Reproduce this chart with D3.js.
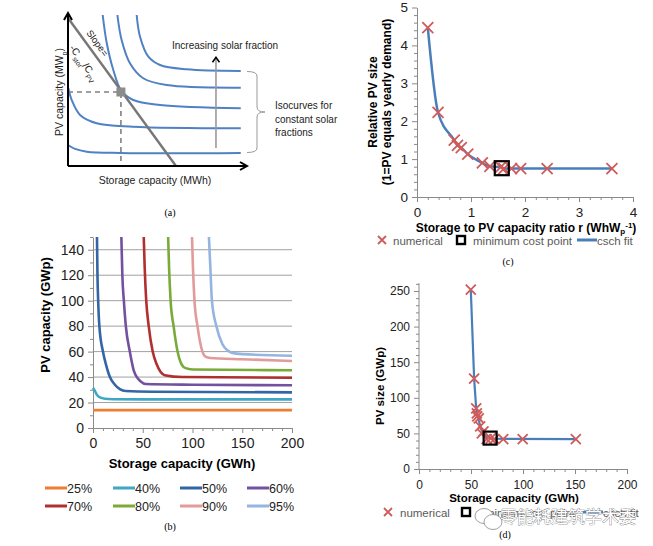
<!DOCTYPE html>
<html><head><meta charset="utf-8">
<script src="https://cdn.jsdelivr.net/npm/d3@7"></script>
<style>
body{margin:0;background:#fff}
svg{display:block}
text{font-family:"Liberation Sans",Arial,sans-serif}
</style>
</head><body>
<svg id="fig" width="653" height="546"></svg>
<script>
// ---------------- DATA ----------------
// Panel (a): schematic (unitless, 0-100 on both axes)
const schemCurve1 = [[0,13.9],[4,11.3],[10.6,9.5],[29.4,8.6],[97.6,8.6]];
const schemCurve2 = [[0.2,51.5],[2.1,43.7],[6.8,33.8],[16.2,28.3],[36.7,26],[97.6,25]];
const schemCurve3 = [[19.6,100],[21.9,81.3],[25.6,63.6],[29.9,50.3],[36.9,43.7],[52,40.4],[97.6,38.2]];
const schemCurve4 = [[27.9,100],[30.3,83.4],[35,68],[42.5,58.1],[55.8,53.6],[97.6,51.9]];
const schemCurve5 = [[38.8,100],[40.7,85.6],[45.4,72.4],[52,66.9],[67.1,64],[97.6,62.9]];
const schemSlope = [[0,98],[61,0]];
const schemOptimum = [29.9,49];

// Panel (b): PV capacity (GWp) vs storage capacity (GWh)
const fractionLabels = ["25%","40%","50%","60%","70%","80%","90%","95%"];
const iso25 = [[0,14],[200,14]];
const iso40 = [[0,31.5],[2,29],[4,26],[7,24],[12,23],[20,22.6],[50,22.5],[200,22.5]];
const iso50 = [[4,150],[4.5,120],[5.2,100],[6.4,80],[10,60],[13,50],[17,40],[22,34],[27,30.5],[33,29],[60,28.5],[200,28]];
const iso60 = [[28.5,150],[29.5,120],[31,100],[33,80],[37,60],[41,45],[45,39],[48,36.5],[53,34.5],[100,34],[200,33.6]];
const iso70 = [[51,150],[52,125],[53.5,100],[56,80],[60,60],[64,50],[68,44],[72,41.5],[90,40],[200,39.5]];
const iso80 = [[75.5,150],[76.5,125],[78,100],[81,80],[85,60],[89,50],[93,47],[100,46],[200,45.4]];
const iso90 = [[99.5,150],[100.5,125],[102,100],[105,80],[110,60],[113,56],[118,55],[150,54],[200,52.6]];
const iso95 = [[116.5,150],[118,125],[119.5,100],[124,80],[130,66],[135,61],[140,59],[150,58],[200,56.8]];
const isoSeries = [iso25, iso40, iso50, iso60, iso70, iso80, iso90, iso95];
const bYTicks = [0,20,40,60,80,100,120,140];
const bXTicks = [0,50,100,150,200];

// Panel (c): relative PV size vs storage/PV ratio
const ratioR = [0.2,0.39,0.69,0.75,0.82,0.94,1.21,1.35,1.55,1.61,1.75,1.92,2.41,3.61];
const relPV  = [4.47,2.23,1.5,1.36,1.3,1.13,0.9,0.81,0.79,0.75,0.75,0.75,0.75,0.75];
const cMinCost = [1.57,0.76];
const cYTicks = [0,1,2,3,4,5];
const cXTicks = [0,1,2,3,4];

// Panel (d): PV size (GWp) vs storage capacity (GWh)
const storD = [49.8,53,55,55.6,56,57.5,58.8,60.4,62,65,69,72.5,81,99.7,150.8];
const pvD   = [252,127,85,78,74,71,60,50,53,42,43,42,42,42,42];
const dFitStor = [49.8,53,55,57.5,60,65,70,150.8];
const dFitPV   = [252,127,85,68,55,45,42.5,42];
const dMinCost = [68.4,43.4];
const dYTicks = [0,50,100,150,200,250];
const dXTicks = [0,50,100,150,200];

// ---------------- STYLE ----------------
const isoColors = ["#ed7d31","#3fa7c4","#3465a4","#7350a0","#b03030","#7aab3a","#e29b9b","#95b5e0"];
const blueFit = "#4a7ebb", redX = "#d05a5a", axisGray = "#8a8a8a";
const fmt = d3.format("d");

const svg = d3.select("#fig");

function crossPath(cx, cy, s){
  return `M${cx-s},${cy-s}L${cx+s},${cy+s}M${cx-s},${cy+s}L${cx+s},${cy-s}`;
}
function styleAxis(g, fs){
  g.select(".domain").attr("stroke", axisGray).attr("stroke-width",1);
  g.selectAll(".tick line").attr("stroke", axisGray);
  g.selectAll(".tick text").attr("fill","#222").style("font-size", fs+"px")
    .style("font-family",'"Liberation Sans",Arial,sans-serif');
}
function minorAxis(g, axis){
  g.call(axis.tickFormat(""));
  g.select(".domain").remove();
  g.selectAll(".tick line").attr("stroke", axisGray);
}

// ================= PANEL (a) =================
{
  const xa = d3.scaleLinear([0,100],[68,245]);
  const ya = d3.scaleLinear([0,100],[166,15]);
  const g = svg.append("g");
  g.append("path").attr("d", `M${xa(0)},${ya(schemOptimum[1])}H${xa(schemOptimum[0])}V${ya(0)}`)
    .attr("fill","none").attr("stroke","#808080").attr("stroke-width",1.6).attr("stroke-dasharray","5,4");
  [schemCurve1,schemCurve2,schemCurve3,schemCurve4,schemCurve5].forEach(c=>{
    g.append("path").attr("d", d3.line().x(d=>xa(d[0])).y(d=>ya(d[1])).curve(d3.curveCatmullRom.alpha(0.5))(c))
      .attr("fill","none").attr("stroke","#4f81c4").attr("stroke-width",2);
  });
  g.append("path").attr("d", d3.line().x(d=>xa(d[0])).y(d=>ya(d[1]))(schemSlope))
    .attr("stroke","#777").attr("stroke-width",2.4).attr("fill","none");
  g.append("rect").attr("x", xa(schemOptimum[0])-4.5).attr("y", ya(schemOptimum[1])-4.5)
    .attr("width",9).attr("height",9).attr("fill","#8c8c8c");
  g.append("path").attr("d", `M${xa(0)},${ya(0)}V${ya(100)-1}M${xa(0)},${ya(0)}H${xa(100)+1}`)
    .attr("stroke","#000").attr("stroke-width",2).attr("fill","none");
  g.append("path").attr("d", `M${xa(0)-4},${ya(100)+5}L${xa(0)},${ya(100)-2}L${xa(0)+4},${ya(100)+5}`)
    .attr("stroke","#000").attr("stroke-width",2).attr("fill","none");
  g.append("path").attr("d", `M${xa(100)-5},${ya(0)-4}L${xa(100)+2},${ya(0)}L${xa(100)-5},${ya(0)+4}`)
    .attr("stroke","#000").attr("stroke-width",2).attr("fill","none");
  g.append("line").attr("x1",xa(83.6)).attr("x2",xa(83.6)).attr("y1",ya(11.9)).attr("y2",ya(72))
    .attr("stroke","#9a9a9a").attr("stroke-width",1.6);
  g.append("path").attr("d", `M${xa(83.6)-3.5},${ya(72)+5}L${xa(83.6)},${ya(72)}L${xa(83.6)+3.5},${ya(72)+5}`)
    .attr("stroke","#000").attr("stroke-width",1.6).attr("fill","none");
  g.append("text").attr("x",172).attr("y",49).style("font-size","10px").attr("fill","#222").text("Increasing solar fraction");
  g.append("path").attr("d","M247,71.5Q257,71.5 257,76V107Q257,112 265,112Q257,112 257,117V148Q257,152.5 247,152.5")
    .attr("fill","none").attr("stroke","#999").attr("stroke-width",1);
  const iso = g.append("text").style("font-size","10px").attr("fill","#222");
  ["Isocurves for","constant solar","fractions"].forEach((t,i)=>
    iso.append("tspan").attr("x",275).attr("y",109+i*13.5).text(t));
  g.append("text").attr("x",155).attr("y",184).attr("text-anchor","middle").style("font-size","10.5px").attr("fill","#222")
    .text("Storage capacity (MWh)");
  const yl = g.append("text").attr("transform","translate(63,92) rotate(-90)").attr("text-anchor","middle")
    .style("font-size","10.5px").attr("fill","#222");
  yl.append("tspan").text("PV capacity (MW");
  yl.append("tspan").attr("baseline-shift","sub").style("font-size","7px").text("p");
  yl.append("tspan").text(")");
  const ang = 53.9;
  g.append("text").attr("transform",`translate(86,33) rotate(${ang})`).style("font-size","9.5px").attr("fill","#222").text("Slope=");
  const sl = g.append("text").attr("transform",`translate(69,48) rotate(${ang})`).style("font-size","10px").attr("fill","#222");
  sl.append("tspan").text("-C");
  sl.append("tspan").attr("baseline-shift","sub").style("font-size","7px").text("stor");
  sl.append("tspan").text("/C");
  sl.append("tspan").attr("baseline-shift","sub").style("font-size","7px").text("PV");
  g.append("text").attr("x",170).attr("y",216).attr("text-anchor","middle")
    .style("font-family",'"Liberation Serif",serif').style("font-size","10px").text("(a)");
}

// ================= PANEL (b) =================
{
  const xb = d3.scaleLinear([0,200],[93,292]);
  const yb = d3.scaleLinear([0,150],[428,237]);
  const g = svg.append("g");
  bYTicks.filter(v=>v>0).forEach(v=>{
    g.append("line").attr("x1",xb(0)).attr("x2",xb(200)).attr("y1",yb(v)).attr("y2",yb(v))
      .attr("stroke","#a0a0a0").attr("stroke-width",1);
  });
  const gy = g.append("g").attr("transform",`translate(${xb(0)},0)`)
    .call(d3.axisLeft(yb).tickValues(bYTicks).tickFormat(fmt).tickSize(5).tickSizeOuter(0).tickPadding(4));
  styleAxis(gy, 14);
  minorAxis(g.append("g").attr("transform",`translate(${xb(0)},0)`),
    d3.axisLeft(yb).tickValues(d3.range(10,151,20)).tickSize(3).tickSizeOuter(0));
  const gx = g.append("g").attr("transform",`translate(0,${yb(0)})`)
    .call(d3.axisBottom(xb).tickValues(bXTicks).tickFormat(fmt).tickSize(5).tickSizeOuter(0).tickPadding(5));
  styleAxis(gx, 14);
  minorAxis(g.append("g").attr("transform",`translate(0,${yb(0)})`),
    d3.axisBottom(xb).tickValues(d3.range(10,200,10).filter(v=>v%50)).tickSize(3).tickSizeOuter(0));
  const line = d3.line().x(d=>xb(d[0])).y(d=>yb(d[1])).curve(d3.curveMonotoneX);
  isoSeries.forEach((s,i)=>{
    g.append("path").attr("d", line(s)).attr("fill","none").attr("stroke",isoColors[i]).attr("stroke-width",2.6);
  });
  g.append("text").attr("x",182).attr("y",468).attr("text-anchor","middle").style("font-size","13px")
    .style("font-weight","bold").text("Storage capacity (GWh)");
  g.append("text").attr("transform","translate(50,315) rotate(-90)").attr("text-anchor","middle").style("font-size","13px")
    .style("font-weight","bold").text("PV capacity (GWp)");
  const colX = [45,113,180,247], rowY = [488,506];
  fractionLabels.forEach((lab,i)=>{
    const cx = colX[i%4], cy = rowY[Math.floor(i/4)];
    g.append("line").attr("x1",cx).attr("x2",cx+22).attr("y1",cy).attr("y2",cy)
      .attr("stroke",isoColors[i]).attr("stroke-width",3);
    g.append("text").attr("x",cx+22).attr("y",cy+4.5).style("font-size","12.5px").attr("fill","#222").text(lab);
  });
  g.append("text").attr("x",170).attr("y",530).attr("text-anchor","middle")
    .style("font-family",'"Liberation Serif",serif').style("font-size","10px").text("(b)");
}

// ================= PANEL (c) =================
{
  const xc = d3.scaleLinear([0,4],[417,633]);
  const yc = d3.scaleLinear([0,5],[197,7.5]);
  const g = svg.append("g");
  const gy = g.append("g").attr("transform",`translate(${xc(0)},0)`)
    .call(d3.axisLeft(yc).tickValues(cYTicks).tickFormat(fmt).tickSize(5).tickSizeOuter(0).tickPadding(4));
  styleAxis(gy, 13.5);
  minorAxis(g.append("g").attr("transform",`translate(${xc(0)},0)`),
    d3.axisLeft(yc).tickValues(d3.range(0.2,5,0.2).filter(v=>Math.abs(v-Math.round(v))>0.01)).tickSize(3).tickSizeOuter(0));
  const gx = g.append("g").attr("transform",`translate(0,${yc(0)})`)
    .call(d3.axisBottom(xc).tickValues(cXTicks).tickFormat(fmt).tickSize(5).tickSizeOuter(0).tickPadding(5));
  styleAxis(gx, 13.5);
  minorAxis(g.append("g").attr("transform",`translate(0,${yc(0)})`),
    d3.axisBottom(xc).tickValues(d3.range(0.2,4,0.2).filter(v=>Math.abs(v-Math.round(v))>0.01)).tickSize(3).tickSizeOuter(0));
  const pts = ratioR.map((r,i)=>[r, relPV[i]]);
  g.append("path").attr("d", d3.line().x(d=>xc(d[0])).y(d=>yc(d[1])).curve(d3.curveMonotoneX)(pts))
    .attr("fill","none").attr("stroke",blueFit).attr("stroke-width",2.5);
  g.append("path").attr("d", pts.map(d=>crossPath(xc(d[0]),yc(d[1]),5.5)).join(""))
    .attr("stroke",redX).attr("stroke-width",1.8).attr("fill","none");
  g.append("rect").attr("x",xc(cMinCost[0])-7).attr("y",yc(cMinCost[1])-7).attr("width",14).attr("height",14)
    .attr("fill","none").attr("stroke","#000").attr("stroke-width",2.2);
  g.append("text").attr("x",526).attr("y",232).attr("text-anchor","middle").style("font-size","12px").style("font-weight","bold")
    .call(t=>{ t.append("tspan").text("Storage to PV capacity ratio r (WhW");
      t.append("tspan").attr("dy",2).style("font-size","8px").text("p");
      t.append("tspan").attr("dy",-6).style("font-size","8px").text("-1");
      t.append("tspan").attr("dy",4).text(")"); });
  g.append("text").attr("transform","translate(377,102) rotate(-90)").attr("text-anchor","middle")
    .style("font-size","12px").style("font-weight","bold").text("Relative PV size");
  g.append("text").attr("transform","translate(391,102) rotate(-90)").attr("text-anchor","middle")
    .style("font-size","12px").style("font-weight","bold").text("(1=PV equals yearly demand)");
  g.append("path").attr("d", crossPath(382,240,4)).attr("stroke",redX).attr("stroke-width",1.8);
  g.append("text").attr("x",393).attr("y",244.5).style("font-size","11.5px").attr("fill","#595959").text("numerical");
  g.append("rect").attr("x",457).attr("y",236).attr("width",8).attr("height",8).attr("fill","none").attr("stroke","#000").attr("stroke-width",2.4);
  g.append("text").attr("x",473).attr("y",244.5).style("font-size","11.5px").attr("fill","#595959").text("minimum cost point");
  g.append("line").attr("x1",577).attr("x2",597).attr("y1",240).attr("y2",240).attr("stroke",blueFit).attr("stroke-width",3);
  g.append("text").attr("x",597).attr("y",244.5).style("font-size","11.5px").attr("fill","#595959").text("csch fit");
  g.append("text").attr("x",508).attr("y",265).attr("text-anchor","middle")
    .style("font-family",'"Liberation Serif",serif').style("font-size","10px").text("(c)");
}

// ================= PANEL (d) =================
{
  const xd = d3.scaleLinear([0,200],[419,627]);
  const yd = d3.scaleLinear([0,250],[469,291]);
  const g = svg.append("g");
  const gy = g.append("g").attr("transform",`translate(${xd(0)},0)`)
    .call(d3.axisLeft(yd).tickValues(dYTicks).tickFormat(fmt).tickSize(5).tickSizeOuter(0).tickPadding(4));
  gy.select(".domain").remove();
  g.append("line").attr("x1",xd(0)).attr("x2",xd(0)).attr("y1",yd(0)).attr("y2",yd(261)).attr("stroke",axisGray);
  styleAxis(gy, 12);
  minorAxis(g.append("g").attr("transform",`translate(${xd(0)},0)`),
    d3.axisLeft(yd).tickValues(d3.range(10,261,10).filter(v=>v%50)).tickSize(3).tickSizeOuter(0));
  const gx = g.append("g").attr("transform",`translate(0,${yd(0)})`)
    .call(d3.axisBottom(xd).tickValues(dXTicks).tickFormat(fmt).tickSize(5).tickSizeOuter(0).tickPadding(6));
  styleAxis(gx, 12);
  minorAxis(g.append("g").attr("transform",`translate(0,${yd(0)})`),
    d3.axisBottom(xd).tickValues(d3.range(10,200,10).filter(v=>v%50)).tickSize(3).tickSizeOuter(0));
  const pts = storD.map((s,i)=>[s, pvD[i]]);
  const fit = dFitStor.map((s,i)=>[s, dFitPV[i]]);
  g.append("path").attr("d", d3.line().x(d=>xd(d[0])).y(d=>yd(d[1]))(fit))
    .attr("fill","none").attr("stroke",blueFit).attr("stroke-width",2.2);
  g.append("path").attr("d", pts.map(d=>crossPath(xd(d[0]),yd(d[1]),5)).join(""))
    .attr("stroke",redX).attr("stroke-width",1.8).attr("fill","none");
  g.append("rect").attr("x",xd(dMinCost[0])-6.5).attr("y",yd(dMinCost[1])-6.5).attr("width",13).attr("height",13)
    .attr("fill","none").attr("stroke","#000").attr("stroke-width",2.2);
  g.append("text").attr("x",514).attr("y",502).attr("text-anchor","middle").style("font-size","11.5px").style("font-weight","bold")
    .text("Storage capacity (GWh)");
  g.append("text").attr("transform","translate(384,386) rotate(-90)").attr("text-anchor","middle")
    .style("font-size","11.5px").style("font-weight","bold").text("PV size (GWp)");
  g.append("path").attr("d", crossPath(388,512,4)).attr("stroke",redX).attr("stroke-width",1.8);
  g.append("text").attr("x",400).attr("y",516.5).style("font-size","11.5px").attr("fill","#595959").text("numerical");
  g.append("rect").attr("x",462).attr("y",508).attr("width",8).attr("height",8).attr("fill","none").attr("stroke","#000").attr("stroke-width",2.4);
  g.append("text").attr("x",476).attr("y",516.5).style("font-size","11.5px").attr("fill","#595959").text("minimum cost point");
  g.append("line").attr("x1",583).attr("x2",603).attr("y1",512).attr("y2",512).attr("stroke",blueFit).attr("stroke-width",3);
  g.append("text").attr("x",603).attr("y",516.5).style("font-size","11.5px").attr("fill","#595959").text("csch fit");
  g.append("text").attr("x",505).attr("y",538).attr("text-anchor","middle")
    .style("font-family",'"Liberation Serif",serif').style("font-size","10px").text("(d)");
  const wm = g.append("g");
  wm.append("ellipse").attr("cx",484).attr("cy",516).attr("rx",9).attr("ry",7.5).attr("fill","#fff").attr("stroke","#888").attr("stroke-width",0.8);
  wm.append("ellipse").attr("cx",493).attr("cy",522).attr("rx",9).attr("ry",7.5).attr("fill","#fff").attr("stroke","#888").attr("stroke-width",0.8);
  wm.append("text").attr("x",500).attr("y",523).style("font-family",'"Noto Sans CJK SC",sans-serif').style("font-size","17px")
    .attr("fill","#fff").attr("stroke","#777").attr("stroke-width",0.7).attr("paint-order","stroke").text("零能耗建筑学术委");
}
</script>
</body></html>
